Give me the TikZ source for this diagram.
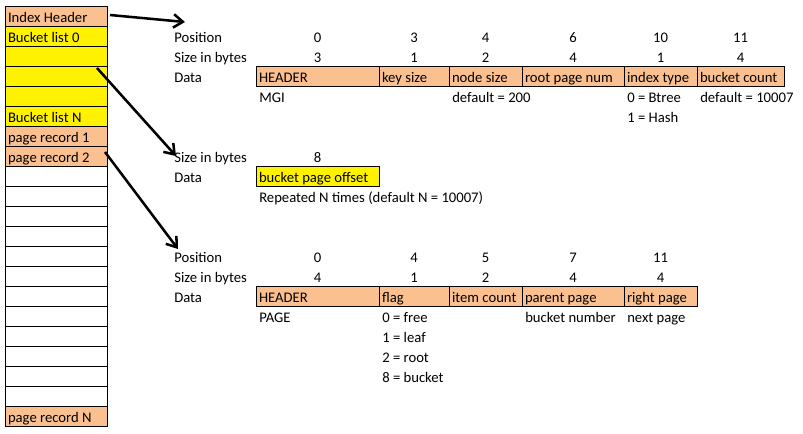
\documentclass[tikz,border=0pt]{standalone}
\usepackage{fontspec}
\setmainfont{Carlito}
\usetikzlibrary{arrows.meta,calc}
\definecolor{peach}{HTML}{FAC090}

\begin{document}
\begin{tikzpicture}[x=0.75pt, y=-0.75pt,
	every node/.style={font=\fontsize{11pt}{13pt}\selectfont},
	cell/.style={draw, line width=0.75pt, anchor=north west, outer sep=0pt, inner xsep=2.25pt, inner ysep=0pt,
		text width={(#1-6)*0.75pt}, align=flush left, text height=12pt, text depth=3pt},
	lbl/.style={anchor=base west, inner sep=0pt},
	num/.style={anchor=base, inner sep=0pt},
	ptr/.style={-{Straight Barb[length=7pt,width=10pt]}, line width=1.9pt}]
	\useasboundingbox (0,0) rectangle (803,433);

	% file layout column
	\foreach \i/\t/\c in {0/Index Header/peach, 1/Bucket list 0/yellow, 2//yellow, 3//yellow, 4//yellow,
		5/Bucket list N/yellow, 6/page record 1/peach, 7/page record 2/peach, 8//white, 9//white, 10//white,
		11//white, 12//white, 13//white, 14//white, 15//white, 16//white, 17//white, 18//white, 19//white,
		20/page record N/peach}
		\node[cell=102, fill=\c] (L\i) at (5,{6+20*\i}) {\t};

	% index header record
	\node[lbl] (hpos) at (174,42) {Position};
	\node[lbl] (hsize) at (174,62) {Size in bytes};
	\node[lbl] (hdata) at (174,82) {Data};
	\foreach \n/\x/\w/\t/\p/\s in {1/256/123/HEADER/0/3, 2/379/70/key size/3/1, 3/449/73/node size/4/2,
		4/522/102/root page num/6/4, 5/624/73/index type/10/1, 6/697/87/bucket count/11/4} {
		\node[cell=\w, fill=peach] (h\n) at (\x,66) {\t};
		\node[num] (hp\n) at ($(h\n.north)+(0,-24)$) {\p};
		\node[num] (hs\n) at ($(h\n.north)+(0,-4)$) {\s};
	}
	\node[lbl] (hn1) at (259,102) {MGI};
	\node[lbl] (hn3) at (452,102) {default = 200};
	\node[lbl] (hn5a) at (627,102) {0 = Btree};
	\node[lbl] (hn5b) at (627,122) {1 = Hash};
	\node[lbl] (hn6) at (700,102) {default = 10007};

	% bucket list record
	\node[lbl] (bsize) at (174,162) {Size in bytes};
	\node[lbl] (bdata) at (174,182) {Data};
	\node[cell=123, fill=yellow] (b1) at (256,166) {bucket page offset};
	\node[num] (bs1) at ($(b1.north)+(0,-4)$) {8};
	\node[lbl] (bn1) at (259,202) {Repeated N times (default N = 10007)};

	% page record
	\node[lbl] (ppos) at (174,262) {Position};
	\node[lbl] (psize) at (174,282) {Size in bytes};
	\node[lbl] (pdata) at (174,302) {Data};
	\foreach \n/\x/\w/\t/\p/\s in {1/256/123/HEADER/0/4, 2/379/70/flag/4/1, 3/449/73/item count/5/2,
		4/522/102/parent page/7/4, 5/624/73/right page/11/4} {
		\node[cell=\w, fill=peach] (p\n) at (\x,286) {\t};
		\node[num] (pp\n) at ($(p\n.north)+(0,-24)$) {\p};
		\node[num] (ps\n) at ($(p\n.north)+(0,-4)$) {\s};
	}
	\node[lbl] (pn1) at (259,322) {PAGE};
	\foreach \k/\t in {0/0 = free, 1/1 = leaf, 2/2 = root, 3/8 = bucket}
		\node[lbl] (pf\k) at (382,{322+20*\k}) {\t};
	\node[lbl] (pn4) at (525,322) {bucket number};
	\node[lbl] (pn5) at (627,322) {next page};

	% pointers
	\coordinate (t1) at (185,22);
	\coordinate (t2) at (176,156);
	\coordinate (t3) at (178,249);
	\draw[ptr] ($(L0.east)+(3,-1)$) -- (t1);
	\draw[ptr] ($(L3.north east)+(-10,2)$) -- (t2);
	\draw[ptr] ($(L7.north east)+(-2,6)$) -- (t3);
\end{tikzpicture}
\end{document}
